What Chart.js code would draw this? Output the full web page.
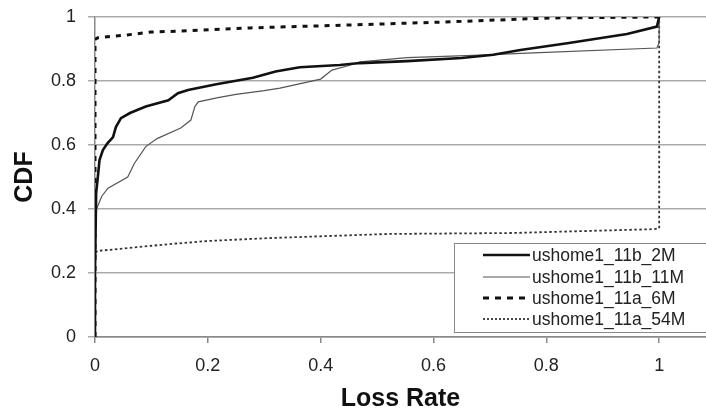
<!DOCTYPE html>
<html>
<head>
<meta charset="utf-8">
<script src="https://cdn.jsdelivr.net/npm/chart.js@4/dist/chart.umd.min.js"></script>
<style>
html,body{margin:0;padding:0;background:#fff;}
canvas{display:block;}
</style>
</head>
<body>
<canvas id="c" width="706" height="410"></canvas>
<script>
// ---- data ----
const seriesNames = ["ushome1_11b_2M", "ushome1_11b_11M", "ushome1_11a_6M", "ushome1_11a_54M"];

const b2M_x = [0, 0, 0.002, 0.005, 0.008, 0.014, 0.022, 0.032, 0.037, 0.046, 0.062, 0.09, 0.13, 0.147, 0.165, 0.215, 0.28, 0.32, 0.363, 0.434, 0.47, 0.553, 0.65, 0.706, 0.754, 0.837, 0.943, 0.996, 1.0];
const b2M_y = [0, 0.2, 0.45, 0.5, 0.553, 0.584, 0.605, 0.625, 0.656, 0.684, 0.70, 0.72, 0.74, 0.762, 0.772, 0.79, 0.81, 0.83, 0.843, 0.85, 0.856, 0.862, 0.872, 0.882, 0.897, 0.918, 0.947, 0.97, 1.0];

const b11M_x = [0, 0, 0.005, 0.012, 0.023, 0.058, 0.07, 0.09, 0.11, 0.152, 0.17, 0.177, 0.183, 0.218, 0.25, 0.3, 0.328, 0.4, 0.42, 0.447, 0.47, 0.553, 0.67, 0.777, 0.996, 1.0, 1.0];
const b11M_y = [0, 0.39, 0.41, 0.44, 0.465, 0.50, 0.543, 0.595, 0.62, 0.653, 0.678, 0.72, 0.735, 0.748, 0.758, 0.77, 0.778, 0.806, 0.834, 0.847, 0.86, 0.873, 0.88, 0.888, 0.903, 0.92, 1.0];

const a6M_x = [0, 0, 0.005, 0.057, 0.1, 0.15, 0.275, 0.45, 0.63, 0.807, 0.985, 1.0];
const a6M_y = [0, 0.93, 0.935, 0.944, 0.953, 0.956, 0.966, 0.975, 0.985, 0.997, 1.0, 1.0];

const a54M_x = [0, 0, 0.005, 0.13, 0.2, 0.307, 0.52, 0.74, 0.99, 1.0, 1.0];
const a54M_y = [0, 0.265, 0.269, 0.29, 0.3, 0.309, 0.322, 0.325, 0.337, 0.34, 1.0];

const xTicks = [0, 0.2, 0.4, 0.6, 0.8, 1];
const yTicks = [0, 0.2, 0.4, 0.6, 0.8, 1];

const toPts = (xs, ys) => xs.map((x, i) => ({x: x, y: ys[i]}));

const styles = [
  {color: '#111', width: 2.6, dash: []},
  {color: '#555', width: 1.2, dash: []},
  {color: '#111', width: 3, dash: [5, 6]},
  {color: '#333', width: 1.8, dash: [2.5, 2.5]}
];
const legendDash = [[], [], [6, 6], [2, 2]];
const allData = [toPts(b2M_x, b2M_y), toPts(b11M_x, b11M_y), toPts(a6M_x, a6M_y), toPts(a54M_x, a54M_y)];

const datasets = allData.map((d, i) => ({
  label: seriesNames[i],
  data: d,
  borderColor: styles[i].color,
  borderWidth: styles[i].width,
  borderDash: styles[i].dash,
  pointRadius: 0,
  tension: 0,
  fill: false
}));

const FONT = "'Liberation Sans', Arial, sans-serif";

const legendPlugin = {
  id: 'boxLegend',
  afterDraw(chart) {
    const ctx = chart.ctx;
    ctx.save();
    const bx = 454.5, by = 243.5, bw = 260, bh = 89;
    ctx.fillStyle = '#fff';
    ctx.fillRect(bx, by, bw, bh);
    ctx.strokeStyle = '#888';
    ctx.lineWidth = 1;
    ctx.setLineDash([]);
    ctx.strokeRect(bx, by, bw, bh);
    const rows = [255, 277, 298, 319];
    ctx.font = "17.5px " + FONT;
    ctx.textBaseline = 'middle';
    ctx.textAlign = 'left';
    seriesNames.forEach((n, i) => {
      const y = rows[i];
      ctx.beginPath();
      ctx.strokeStyle = styles[i].color;
      ctx.lineWidth = styles[i].width;
      ctx.setLineDash(legendDash[i]);
      ctx.moveTo(483, y);
      ctx.lineTo(530, y);
      ctx.stroke();
      ctx.setLineDash([]);
      ctx.fillStyle = '#222';
      ctx.fillText(n, 532, y + 1);
    });
    ctx.restore();
  }
};

new Chart(document.getElementById('c'), {
  type: 'line',
  data: {datasets: datasets},
  options: {
    responsive: false,
    animation: false,
    devicePixelRatio: 1,
    layout: {padding: {top: 17, right: 0, bottom: 0, left: 0}},
    plugins: {legend: {display: false}, tooltip: {enabled: false}},
    scales: {
      x: {
        type: 'linear',
        min: 0,
        max: 1.083,
        afterBuildTicks: s => { s.ticks = xTicks.map(v => ({value: v})); },
        afterFit: s => { s.height = 73; s.paddingLeft = 0; s.paddingRight = 0; },
        ticks: {
          color: '#222',
          font: {family: FONT, size: 18},
          padding: 12,
          maxRotation: 0,
          callback: v => String(v)
        },
        grid: {drawOnChartArea: false, drawTicks: true, tickLength: 6, color: '#888', lineWidth: 1.5},
        border: {display: true, color: '#888', width: 1.5},
        title: {
          display: true,
          text: 'Loss Rate',
          color: '#111',
          font: {family: FONT, size: 25, weight: 'bold', lineHeight: 1},
          padding: {top: 0, bottom: -2}
        }
      },
      y: {
        type: 'linear',
        min: 0,
        max: 1,
        afterBuildTicks: s => { s.ticks = yTicks.map(v => ({value: v})); },
        afterFit: s => { s.width = 95; s.paddingTop = 0; s.paddingBottom = 0; },
        ticks: {
          color: '#222',
          font: {family: FONT, size: 18},
          padding: 12,
          callback: v => String(v)
        },
        grid: {color: '#aaa', lineWidth: 1.5, tickLength: 7},
        border: {display: true, color: '#888', width: 1.5},
        title: {
          display: true,
          text: 'CDF',
          color: '#111',
          font: {family: FONT, size: 25, weight: 'bold', lineHeight: 1},
          padding: {top: 13, bottom: 0}
        }
      }
    }
  },
  plugins: [legendPlugin]
});
</script>
</body>
</html>
